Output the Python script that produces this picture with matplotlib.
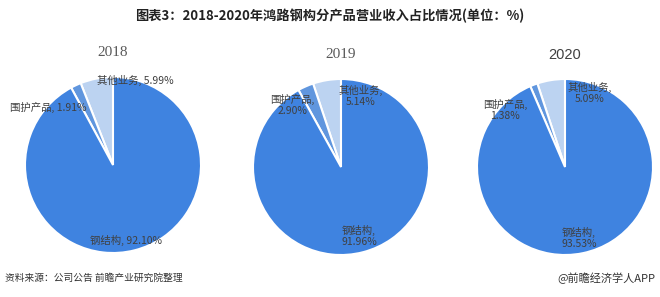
import matplotlib
matplotlib.use("Agg")
import matplotlib.pyplot as plt

plt.rcParams['font.family'] = ['Noto Sans CJK SC', 'DejaVu Sans']

# 数据
years = ['2018', '2019', '2020']
categories = ['其他业务', '围护产品', '钢结构']
other = [5.99, 5.14, 5.09]
enclosure = [1.91, 2.90, 1.38]
steel = [92.10, 91.96, 93.53]
colors = ['#bcd3f1', '#6096de', '#3f83e0']

W, H = 660, 297
fig = plt.figure(figsize=(W / 100, H / 100), dpi=100)
ax = fig.add_axes([0, 0, 1, 1])

# 饼图位置 (像素, 从上往下计)
centers = [(113, 165), (341, 167), (565, 167)]
radius = 88
year_y = [53, 55, 55]
year_fonts = [('Liberation Serif', 11, '#595959'),
              ('Liberation Serif', 11, '#595959'),
              ('Liberation Sans', 10.5, '#404040')]

# 标签位置: (x, y, 对齐, 是否换行)
label_pos = [
    [(97, 80, 'left', False), (10, 107, 'left', False), (90, 240, 'left', False)],
    [(361, 96, 'center', True), (292, 105, 'center', True), (359, 236, 'center', True)],
    [(590, 93, 'center', True), (505, 110, 'center', True), (579, 238, 'center', True)],
]

def yy(y):
    return H - y

for i in range(3):
    cx, cy = centers[i]
    vals = [other[i], enclosure[i], steel[i]]
    ax.pie(vals, colors=colors, startangle=90, counterclock=True,
           center=(cx, yy(cy)), radius=radius, frame=True,
           wedgeprops=dict(edgecolor='white', linewidth=1.5))
    fam, fs, col = year_fonts[i]
    ax.text(cx, yy(year_y[i]), years[i], ha='center', va='center',
            fontsize=fs, color=col, family=fam)
    for j, (lx, ly, ha, wrap) in enumerate(label_pos[i]):
        if wrap:
            s = '%s,\n%.2f%%' % (categories[j], vals[j])
        else:
            s = '%s, %.2f%%' % (categories[j], vals[j])
        ax.text(lx, yy(ly), s, ha=ha, va='center', fontsize=7.5,
                color='#404040', linespacing=1.1, multialignment='center')

ax.set_xlim(0, W)
ax.set_ylim(0, H)
ax.set_aspect('auto')
ax.axis('off')

fig.text(0.5, 1 - 16 / H, '图表3：2018-2020年鸿路钢构分产品营业收入占比情况(单位：%)',
         ha='center', va='center', fontsize=9.5, fontweight='bold', color='#222222')
fig.text(5 / W, 1 - 278 / H, '资料来源：公司公告 前瞻产业研究院整理',
         ha='left', va='center', fontsize=7, color='#333333')
fig.text(655 / W, 1 - 278 / H, '@前瞻经济学人APP',
         ha='right', va='center', fontsize=8, color='#333333')

fig.savefig('out.png', dpi=100)
